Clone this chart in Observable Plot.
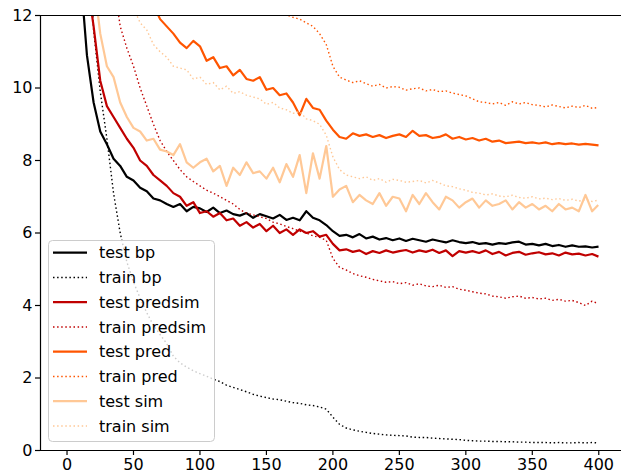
<!DOCTYPE html>
<html>
<head>
<meta charset="utf-8">
<script src="https://cdn.jsdelivr.net/npm/d3@7"></script>
<script src="https://cdn.jsdelivr.net/npm/@observablehq/plot@0.6"></script>
<style>
  html, body { margin: 0; padding: 0; background: #fff; }
  svg { display: block; }
</style>
</head>
<body>
<script>
const epochs = [0,5,10,15,20,25,30,35,40,45,50,55,60,65,70,75,80,85,90,95,
  100,105,110,115,120,125,130,135,140,145,150,155,160,165,170,175,180,185,190,195,
  200,205,210,215,220,225,230,235,240,245,250,255,260,265,270,275,280,285,290,295,
  300,305,310,315,320,325,330,335,340,345,350,355,360,365,370,375,380,385,390,395,399];

const testBp = [22,16.5,13.2,10.9,9.6,8.8,8.45,8.05,7.85,7.55,7.45,7.25,7.15,6.95,6.9,6.8,6.72,6.8,6.6,6.72,
  6.68,6.58,6.7,6.55,6.62,6.52,6.48,6.55,6.42,6.52,6.46,6.4,6.5,6.36,6.42,6.35,6.6,6.42,6.35,6.22,
  6.05,5.92,5.95,5.88,5.97,5.85,5.9,5.82,5.86,5.8,5.85,5.78,5.84,5.8,5.76,5.82,5.78,5.74,5.8,5.75,
  5.72,5.75,5.7,5.72,5.68,5.72,5.7,5.74,5.76,5.68,5.7,5.66,5.7,5.64,5.67,5.62,5.66,5.62,5.63,5.6,5.62];

const trainBp = [45,30,21,15,11.6,9.9,8.6,7.1,6.0,5.2,4.65,4.2,3.8,3.45,3.2,2.95,2.6,2.42,2.3,2.2,
  2.12,2.05,1.97,1.9,1.8,1.74,1.68,1.62,1.55,1.5,1.46,1.42,1.4,1.36,1.32,1.3,1.26,1.24,1.2,1.14,
  0.92,0.72,0.62,0.57,0.53,0.5,0.47,0.45,0.43,0.42,0.41,0.4,0.37,0.36,0.36,0.34,0.33,0.32,0.31,0.3,
  0.28,0.27,0.26,0.26,0.25,0.25,0.24,0.24,0.23,0.23,0.22,0.22,0.22,0.21,0.22,0.21,0.21,0.22,0.21,0.22,0.21];

const testPredsim = [25,19,15.5,13,11.7,10.2,9.5,9.2,8.9,8.6,8.35,8.0,7.85,7.6,7.45,7.3,7.1,7.0,6.75,6.85,
  6.55,6.6,6.45,6.55,6.35,6.4,6.2,6.3,6.15,6.25,6.05,6.2,6.0,6.1,5.95,6.1,6.0,6.05,5.9,5.95,
  5.7,5.52,5.55,5.48,5.52,5.42,5.5,5.45,5.52,5.46,5.5,5.53,5.46,5.52,5.48,5.54,5.45,5.52,5.36,5.5,
  5.46,5.5,5.45,5.52,5.42,5.48,5.38,5.45,5.48,5.4,5.44,5.47,5.41,5.44,5.38,5.46,5.41,5.43,5.38,5.42,5.36];

const trainPredsim = [40,32,27,23,19.5,17,14.8,13,11.7,11.1,10.6,10.0,9.5,9.0,8.55,8.25,8.0,7.75,7.55,7.42,
  7.3,7.18,7.1,7.0,6.9,6.8,6.65,6.55,6.5,6.45,6.4,6.3,6.25,6.18,6.12,6.05,6.0,5.92,5.88,5.8,
  5.3,5.05,4.98,4.88,4.82,4.78,4.72,4.68,4.64,4.66,4.6,4.63,4.56,4.6,4.54,4.52,4.56,4.5,4.52,4.45,
  4.42,4.38,4.34,4.32,4.26,4.24,4.2,4.24,4.26,4.2,4.22,4.18,4.2,4.14,4.17,4.12,4.14,4.08,4.0,4.12,4.06];

const testPred = [45,38,33,29,26,23,21,19,17.5,16,15,14,13,12.3,11.9,11.7,11.5,11.25,11.1,11.3,
  11.15,10.75,10.85,10.55,10.6,10.35,10.5,10.25,10.2,10.3,9.95,10.0,9.8,9.85,9.6,9.25,9.7,9.45,9.4,9.1,
  8.85,8.65,8.6,8.75,8.68,8.72,8.65,8.7,8.62,8.68,8.72,8.65,8.82,8.68,8.7,8.62,8.65,8.72,8.6,8.65,
  8.58,8.62,8.55,8.6,8.52,8.55,8.48,8.5,8.52,8.48,8.5,8.47,8.5,8.45,8.48,8.45,8.47,8.44,8.46,8.44,8.42];

const trainPred = [60,50,44,40,36,33.5,31,29,27,25.5,24,22.7,21.5,20.4,19.4,18.5,17.7,17.0,16.4,15.8,
  15.3,14.8,14.4,14.0,13.7,13.4,13.1,12.9,12.7,12.5,12.35,12.2,12.1,12.02,11.95,11.9,11.8,11.7,11.5,11.2,
  10.6,10.3,10.22,10.15,10.2,10.12,10.05,10.1,10.0,10.04,10.02,9.94,9.98,10.0,9.92,9.96,9.9,9.92,9.86,9.82,
  9.78,9.7,9.62,9.6,9.56,9.6,9.52,9.62,9.56,9.6,9.54,9.52,9.48,9.53,9.49,9.45,9.5,9.46,9.52,9.44,9.46];

const testSim = [30,22,18,15,13,11.5,10.6,10.3,9.6,9.2,8.9,8.8,8.55,8.6,8.3,8.25,8.15,8.45,7.95,7.8,
  7.95,8.05,7.7,7.85,7.3,7.8,7.6,7.95,7.65,7.7,7.5,7.8,7.4,7.9,7.55,8.15,7.1,8.2,7.5,8.4,
  7.0,7.2,7.3,6.85,7.05,6.9,6.8,7.1,6.75,7.0,6.95,6.6,7.05,6.8,7.1,6.85,6.65,7.0,6.9,6.7,
  6.85,6.95,6.7,6.9,6.75,6.8,6.9,6.65,6.85,6.7,6.8,6.65,6.75,6.6,6.8,6.65,6.7,6.6,7.05,6.6,6.75];

const trainSim = [50,40,33,28,24,21,18.5,16.5,14.8,13.4,12.2,11.8,11.6,11.2,11.0,10.85,10.6,10.55,10.5,10.25,
  10.3,10.1,10.15,9.95,10.05,9.85,9.9,9.8,9.75,9.7,9.55,9.6,9.45,9.4,9.3,9.35,9.15,9.1,9.0,8.7,
  8.1,7.75,7.6,7.55,7.5,7.55,7.45,7.5,7.4,7.48,7.45,7.4,7.42,7.45,7.38,7.45,7.38,7.3,7.28,7.22,
  7.18,7.12,7.1,7.05,7.08,7.02,7.0,7.04,6.98,6.96,7.0,6.94,6.96,6.92,6.95,6.9,6.93,6.88,6.92,6.87,6.9];

const seriesNames = ["test bp","train bp","test predsim","train predsim","test pred","train pred","test sim","train sim"];
const seriesColors = ["#000000","#000000","#c00000","#c00000","#ff5500","#ff5500","#ffc896","#ffc896"];
const seriesDotted = [false,true,false,true,false,true,false,true];
const seriesValues = [testBp,trainBp,testPredsim,trainPredsim,testPred,trainPred,testSim,trainSim];

const xTicks = [0,50,100,150,200,250,300,350,400];
const yTicks = [0,2,4,6,8,10,12];

const xMin = -19.95, xMax = 417.1;

const lineMarks = seriesValues.map((vals, i) => {
  const data = epochs.map((e, j) => ({epoch: e, value: vals[j]}));
  return Plot.line(data, {
    x: "epoch", y: "value",
    stroke: seriesColors[i],
    strokeWidth: seriesDotted[i] ? 1.4 : 2.2,
    strokeDasharray: seriesDotted[i] ? "1.5,2.6" : null,
    strokeLinecap: seriesDotted[i] ? "butt" : "square",
    strokeLinejoin: "round",
    clip: true
  });
});

const svg = Plot.plot({
  width: 621,
  height: 476,
  marginLeft: 40,
  marginRight: 0,
  marginTop: 15,
  marginBottom: 26,
  style: {fontFamily: "'DejaVu Sans', sans-serif", fontSize: "16px", color: "#000", background: "#fff"},
  x: {domain: [xMin, xMax]},
  y: {domain: [0, 12]},
  marks: [
    ...lineMarks,
    Plot.ruleY([0], {stroke: "#000", strokeWidth: 1.2}),
    Plot.ruleY([12], {stroke: "#000", strokeWidth: 1.2}),
    Plot.ruleX([xMin], {stroke: "#000", strokeWidth: 1.2}),
    Plot.axisX({ticks: xTicks, tickSize: 5, tickPadding: 3, label: null, fontSize: 16, strokeWidth: 1.2}),
    Plot.axisY({ticks: yTicks, tickSize: 5, tickPadding: 3, label: null, fontSize: 16, strokeWidth: 1.2})
  ]
});

// legend (framed box inside the axes, like matplotlib's)
const lg = d3.select(svg).append("g").attr("class", "legend")
  .attr("text-anchor", "start").attr("font-family", "'DejaVu Sans', sans-serif");
lg.append("rect")
  .attr("x", 48.5).attr("y", 240.5).attr("width", 166).attr("height", 201)
  .attr("rx", 4).attr("ry", 4)
  .attr("fill", "#fff").attr("fill-opacity", 0.8)
  .attr("stroke", "#cccccc").attr("stroke-width", 1);
seriesNames.forEach((name, i) => {
  const yy = 252.7 + i * 24.75;
  lg.append("line")
    .attr("x1", 53).attr("x2", 87).attr("y1", yy).attr("y2", yy)
    .attr("stroke", seriesColors[i])
    .attr("stroke-width", seriesDotted[i] ? 1.4 : 2.2)
    .attr("stroke-dasharray", seriesDotted[i] ? "1.5,2.6" : null);
  lg.append("text")
    .attr("x", 99).attr("y", yy).attr("dy", "0.35em")
    .attr("text-anchor", "start")
    .attr("font-size", 16).attr("fill", "#000")
    .text(name);
});

document.body.appendChild(svg);
</script>
</body>
</html>
